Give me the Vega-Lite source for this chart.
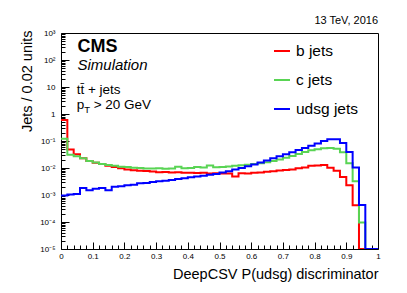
{
  "$schema": "https://vega.github.io/schema/vega-lite/v6.json",
  "width": 317,
  "height": 216,
  "autosize": {"type": "none"},
  "padding": {"left": 61, "top": 33, "right": 29, "bottom": 44},
  "background": "white",
  "config": {
    "font": "Liberation Sans",
    "view": {"stroke": "black", "strokeWidth": 1}
  },
  "title": {"text": "13 TeV, 2016", "anchor": "end", "frame": "group", "fontSize": 11, "fontWeight": "normal", "color": "black", "font": "Liberation Sans", "baseline": "alphabetic", "offset": 10, "dy": 16},
  "resolve": {"axis": {"x": "independent", "y": "independent"}},
  "datasets": {
    "hist": [
      {"f":"b jets","lo":0,"hi":0.02,"n":0.60},{"f":"b jets","lo":0.02,"hi":0.04,"n":0.048},{"f":"b jets","lo":0.04,"hi":0.06,"n":0.032},{"f":"b jets","lo":0.06,"hi":0.08,"n":0.023},{"f":"b jets","lo":0.08,"hi":0.1,"n":0.018},
      {"f":"b jets","lo":0.1,"hi":0.12,"n":0.0155},{"f":"b jets","lo":0.12,"hi":0.14,"n":0.014},{"f":"b jets","lo":0.14,"hi":0.16,"n":0.012},{"f":"b jets","lo":0.16,"hi":0.18,"n":0.011},{"f":"b jets","lo":0.18,"hi":0.2,"n":0.0098},
      {"f":"b jets","lo":0.2,"hi":0.22,"n":0.0088},{"f":"b jets","lo":0.22,"hi":0.24,"n":0.0082},{"f":"b jets","lo":0.24,"hi":0.26,"n":0.0079},{"f":"b jets","lo":0.26,"hi":0.28,"n":0.0078},{"f":"b jets","lo":0.28,"hi":0.3,"n":0.0074},
      {"f":"b jets","lo":0.3,"hi":0.32,"n":0.0070},{"f":"b jets","lo":0.32,"hi":0.34,"n":0.0071},{"f":"b jets","lo":0.34,"hi":0.36,"n":0.0068},{"f":"b jets","lo":0.36,"hi":0.38,"n":0.0069},{"f":"b jets","lo":0.38,"hi":0.4,"n":0.0066},
      {"f":"b jets","lo":0.4,"hi":0.42,"n":0.0067},{"f":"b jets","lo":0.42,"hi":0.44,"n":0.0065},{"f":"b jets","lo":0.44,"hi":0.46,"n":0.0066},{"f":"b jets","lo":0.46,"hi":0.48,"n":0.0063},{"f":"b jets","lo":0.48,"hi":0.5,"n":0.0064},
      {"f":"b jets","lo":0.5,"hi":0.52,"n":0.0062},{"f":"b jets","lo":0.52,"hi":0.54,"n":0.0062},{"f":"b jets","lo":0.54,"hi":0.56,"n":0.0048},{"f":"b jets","lo":0.56,"hi":0.58,"n":0.0064},{"f":"b jets","lo":0.58,"hi":0.6,"n":0.0062},
      {"f":"b jets","lo":0.6,"hi":0.62,"n":0.0066},{"f":"b jets","lo":0.62,"hi":0.64,"n":0.0068},{"f":"b jets","lo":0.64,"hi":0.66,"n":0.0072},{"f":"b jets","lo":0.66,"hi":0.68,"n":0.0076},{"f":"b jets","lo":0.68,"hi":0.7,"n":0.0080},
      {"f":"b jets","lo":0.7,"hi":0.72,"n":0.0084},{"f":"b jets","lo":0.72,"hi":0.74,"n":0.0088},{"f":"b jets","lo":0.74,"hi":0.76,"n":0.0098},{"f":"b jets","lo":0.76,"hi":0.78,"n":0.0105},{"f":"b jets","lo":0.78,"hi":0.8,"n":0.012},
      {"f":"b jets","lo":0.8,"hi":0.82,"n":0.0125},{"f":"b jets","lo":0.82,"hi":0.84,"n":0.0128},{"f":"b jets","lo":0.84,"hi":0.86,"n":0.0102},{"f":"b jets","lo":0.86,"hi":0.88,"n":0.0079},{"f":"b jets","lo":0.88,"hi":0.9,"n":0.0046},
      {"f":"b jets","lo":0.9,"hi":0.92,"n":0.0023},{"f":"b jets","lo":0.92,"hi":0.94,"n":0.00042},{"f":"b jets","lo":0.94,"hi":0.96,"n":1e-5},{"f":"b jets","lo":0.96,"hi":0.98,"n":1e-5},{"f":"b jets","lo":0.98,"hi":1,"n":1e-5},

      {"f":"c jets","lo":0,"hi":0.02,"n":0.12},{"f":"c jets","lo":0.02,"hi":0.04,"n":0.031},{"f":"c jets","lo":0.04,"hi":0.06,"n":0.027},{"f":"c jets","lo":0.06,"hi":0.08,"n":0.023},{"f":"c jets","lo":0.08,"hi":0.1,"n":0.018},
      {"f":"c jets","lo":0.1,"hi":0.12,"n":0.016},{"f":"c jets","lo":0.12,"hi":0.14,"n":0.014},{"f":"c jets","lo":0.14,"hi":0.16,"n":0.0128},{"f":"c jets","lo":0.16,"hi":0.18,"n":0.0122},{"f":"c jets","lo":0.18,"hi":0.2,"n":0.0112},
      {"f":"c jets","lo":0.2,"hi":0.22,"n":0.0108},{"f":"c jets","lo":0.22,"hi":0.24,"n":0.0102},{"f":"c jets","lo":0.24,"hi":0.26,"n":0.0100},{"f":"c jets","lo":0.26,"hi":0.28,"n":0.0096},{"f":"c jets","lo":0.28,"hi":0.3,"n":0.0095},
      {"f":"c jets","lo":0.3,"hi":0.32,"n":0.0097},{"f":"c jets","lo":0.32,"hi":0.34,"n":0.0094},{"f":"c jets","lo":0.34,"hi":0.36,"n":0.0096},{"f":"c jets","lo":0.36,"hi":0.38,"n":0.0112},{"f":"c jets","lo":0.38,"hi":0.4,"n":0.0097},
      {"f":"c jets","lo":0.4,"hi":0.42,"n":0.0099},{"f":"c jets","lo":0.42,"hi":0.44,"n":0.0108},{"f":"c jets","lo":0.44,"hi":0.46,"n":0.0104},{"f":"c jets","lo":0.46,"hi":0.48,"n":0.0125},{"f":"c jets","lo":0.48,"hi":0.5,"n":0.0106},
      {"f":"c jets","lo":0.5,"hi":0.52,"n":0.0110},{"f":"c jets","lo":0.52,"hi":0.54,"n":0.0114},{"f":"c jets","lo":0.54,"hi":0.56,"n":0.0120},{"f":"c jets","lo":0.56,"hi":0.58,"n":0.0126},{"f":"c jets","lo":0.58,"hi":0.6,"n":0.0132},
      {"f":"c jets","lo":0.6,"hi":0.62,"n":0.0140},{"f":"c jets","lo":0.62,"hi":0.64,"n":0.0150},{"f":"c jets","lo":0.64,"hi":0.66,"n":0.0165},{"f":"c jets","lo":0.66,"hi":0.68,"n":0.0182},{"f":"c jets","lo":0.68,"hi":0.7,"n":0.0205},
      {"f":"c jets","lo":0.7,"hi":0.72,"n":0.024},{"f":"c jets","lo":0.72,"hi":0.74,"n":0.028},{"f":"c jets","lo":0.74,"hi":0.76,"n":0.033},{"f":"c jets","lo":0.76,"hi":0.78,"n":0.039},{"f":"c jets","lo":0.78,"hi":0.8,"n":0.045},
      {"f":"c jets","lo":0.8,"hi":0.82,"n":0.050},{"f":"c jets","lo":0.82,"hi":0.84,"n":0.054},{"f":"c jets","lo":0.84,"hi":0.86,"n":0.055},{"f":"c jets","lo":0.86,"hi":0.88,"n":0.052},{"f":"c jets","lo":0.88,"hi":0.9,"n":0.038},
      {"f":"c jets","lo":0.9,"hi":0.92,"n":0.015},{"f":"c jets","lo":0.92,"hi":0.94,"n":0.0032},{"f":"c jets","lo":0.94,"hi":0.96,"n":0.000095},{"f":"c jets","lo":0.96,"hi":0.98,"n":1e-5},{"f":"c jets","lo":0.98,"hi":1,"n":1e-5},

      {"f":"udsg jets","lo":0,"hi":0.02,"n":0.00095},{"f":"udsg jets","lo":0.02,"hi":0.04,"n":0.00105},{"f":"udsg jets","lo":0.04,"hi":0.06,"n":0.0011},{"f":"udsg jets","lo":0.06,"hi":0.08,"n":0.0018},{"f":"udsg jets","lo":0.08,"hi":0.1,"n":0.0015},
      {"f":"udsg jets","lo":0.1,"hi":0.12,"n":0.0017},{"f":"udsg jets","lo":0.12,"hi":0.14,"n":0.0018},{"f":"udsg jets","lo":0.14,"hi":0.16,"n":0.0015},{"f":"udsg jets","lo":0.16,"hi":0.18,"n":0.0020},{"f":"udsg jets","lo":0.18,"hi":0.2,"n":0.0021},
      {"f":"udsg jets","lo":0.2,"hi":0.22,"n":0.0023},{"f":"udsg jets","lo":0.22,"hi":0.24,"n":0.0024},{"f":"udsg jets","lo":0.24,"hi":0.26,"n":0.0027},{"f":"udsg jets","lo":0.26,"hi":0.28,"n":0.0028},{"f":"udsg jets","lo":0.28,"hi":0.3,"n":0.0030},
      {"f":"udsg jets","lo":0.3,"hi":0.32,"n":0.0032},{"f":"udsg jets","lo":0.32,"hi":0.34,"n":0.0034},{"f":"udsg jets","lo":0.34,"hi":0.36,"n":0.0036},{"f":"udsg jets","lo":0.36,"hi":0.38,"n":0.0039},{"f":"udsg jets","lo":0.38,"hi":0.4,"n":0.0042},
      {"f":"udsg jets","lo":0.4,"hi":0.42,"n":0.0045},{"f":"udsg jets","lo":0.42,"hi":0.44,"n":0.0048},{"f":"udsg jets","lo":0.44,"hi":0.46,"n":0.0052},{"f":"udsg jets","lo":0.46,"hi":0.48,"n":0.0056},{"f":"udsg jets","lo":0.48,"hi":0.5,"n":0.0060},
      {"f":"udsg jets","lo":0.5,"hi":0.52,"n":0.0068},{"f":"udsg jets","lo":0.52,"hi":0.54,"n":0.0076},{"f":"udsg jets","lo":0.54,"hi":0.56,"n":0.0088},{"f":"udsg jets","lo":0.56,"hi":0.58,"n":0.0100},{"f":"udsg jets","lo":0.58,"hi":0.6,"n":0.0115},
      {"f":"udsg jets","lo":0.6,"hi":0.62,"n":0.0135},{"f":"udsg jets","lo":0.62,"hi":0.64,"n":0.016},{"f":"udsg jets","lo":0.64,"hi":0.66,"n":0.019},{"f":"udsg jets","lo":0.66,"hi":0.68,"n":0.023},{"f":"udsg jets","lo":0.68,"hi":0.7,"n":0.027},
      {"f":"udsg jets","lo":0.7,"hi":0.72,"n":0.032},{"f":"udsg jets","lo":0.72,"hi":0.74,"n":0.038},{"f":"udsg jets","lo":0.74,"hi":0.76,"n":0.046},{"f":"udsg jets","lo":0.76,"hi":0.78,"n":0.055},{"f":"udsg jets","lo":0.78,"hi":0.8,"n":0.066},
      {"f":"udsg jets","lo":0.8,"hi":0.82,"n":0.080},{"f":"udsg jets","lo":0.82,"hi":0.84,"n":0.100},{"f":"udsg jets","lo":0.84,"hi":0.86,"n":0.115},{"f":"udsg jets","lo":0.86,"hi":0.88,"n":0.115},{"f":"udsg jets","lo":0.88,"hi":0.9,"n":0.085},
      {"f":"udsg jets","lo":0.9,"hi":0.92,"n":0.039},{"f":"udsg jets","lo":0.92,"hi":0.94,"n":0.0105},{"f":"udsg jets","lo":0.94,"hi":0.96,"n":0.00043},{"f":"udsg jets","lo":0.96,"hi":0.98,"n":1e-5},{"f":"udsg jets","lo":0.98,"hi":1,"n":1e-5}
    ],
    "one": [{}]
  },
  "layer": [
    {
      "data": {"name": "hist"},
      "transform": [{"fold": ["lo", "hi"], "as": ["edge", "x"]}],
      "mark": {"type": "line", "strokeWidth": 2, "clip": true},
      "encoding": {
        "x": {
          "field": "x", "type": "quantitative",
          "scale": {"domain": [0, 1], "nice": false, "zero": false},
          "axis": {
            "orient": "bottom",
            "title": "DeepCSV P(udsg) discriminator",
            "titleFont": "Liberation Sans", "titleFontSize": 14.5, "titleFontWeight": "normal", "titleColor": "black",
            "titleX": 317, "titleY": 29, "titleAlign": "right", "titleBaseline": "alphabetic", "titleAnchor": null,
            "domain": false, "grid": false,
            "values": [0,0.1,0.2,0.3,0.4,0.5,0.6,0.7,0.8,0.9,1],
            "tickColor": "black", "tickWidth": 1, "tickSize": -7,
            "labelExpr": "format(datum.value, '~g')",
            "labelFont": "Liberation Sans", "labelFontSize": 8, "labelColor": "black", "labelPadding": 10,
            "labelFlush": false, "labelOverlap": false
          }
        },
        "y": {
          "field": "n", "type": "quantitative",
          "scale": {"type": "log", "domain": [1e-5, 1000], "nice": false},
          "axis": {
            "orient": "left",
            "title": "Jets / 0.02 units",
            "titleFont": "Liberation Sans", "titleFontSize": 14.5, "titleFontWeight": "normal", "titleColor": "black",
            "titleX": -34, "titleY": -3, "titleAlign": "right", "titleBaseline": "middle", "titleAngle": -90, "titleAnchor": null,
            "domain": false, "grid": false,
            "values": [1e-5,1e-4,0.001,0.01,0.1,1,10,100,1000],
            "tickColor": "black", "tickWidth": 1, "tickSize": -8,
            "labelExpr": "round(log(datum.value)/LN10) == 3 ? '10³' : round(log(datum.value)/LN10) == 2 ? '10²' : round(log(datum.value)/LN10) == 1 ? '10' : round(log(datum.value)/LN10) == 0 ? '1' : '10⁻' + ['','¹','²','³','⁴','⁵'][-round(log(datum.value)/LN10)]",
            "labelFont": "Liberation Sans", "labelFontSize": 8, "labelColor": "black", "labelPadding": 14,
            "labelFlush": false, "labelOverlap": false, "labelBaseline": "middle"
          }
        },
        "color": {
          "field": "f", "type": "nominal",
          "scale": {"domain": ["b jets", "c jets", "udsg jets"], "range": ["#ff0000", "#59d454", "#0000ff"]},
          "legend": {
            "orient": "none", "legendX": 212, "legendY": 9, "title": null,
            "symbolType": "stroke", "symbolSize": 256, "symbolStrokeWidth": 2,
            "labelFont": "Liberation Sans", "labelFontSize": 15.5, "labelColor": "black", "labelOffset": 5,
            "rowPadding": 11, "padding": 0
          }
        },
        "order": [{"field": "lo", "type": "quantitative"}, {"field": "edge", "type": "nominal", "sort": "descending"}]
      }
    },
    {
      "data": {"name": "one"},
      "mark": {"type": "text", "text": ""},
      "encoding": {
        "x": {"datum": 0.5, "type": "quantitative", "axis": {
          "orient": "bottom", "title": null, "labels": false, "domain": false, "grid": false,
          "values": [0.02,0.04,0.06,0.08,0.12,0.14,0.16,0.18,0.22,0.24,0.26,0.28,0.32,0.34,0.36,0.38,0.42,0.44,0.46,0.48,0.52,0.54,0.56,0.58,0.62,0.64,0.66,0.68,0.72,0.74,0.76,0.78,0.82,0.84,0.86,0.88,0.92,0.94,0.96,0.98],
          "tickColor": "black", "tickWidth": 1, "tickSize": -4}},
        "y": {"datum": 1, "type": "quantitative", "axis": {
          "orient": "left", "title": null, "labels": false, "domain": false, "grid": false,
          "values": [2e-5,3e-5,4e-5,5e-5,6e-5,7e-5,8e-5,9e-5,2e-4,3e-4,4e-4,5e-4,6e-4,7e-4,8e-4,9e-4,0.002,0.003,0.004,0.005,0.006,0.007,0.008,0.009,0.02,0.03,0.04,0.05,0.06,0.07,0.08,0.09,0.2,0.3,0.4,0.5,0.6,0.7,0.8,0.9,2,3,4,5,6,7,8,9,20,30,40,50,60,70,80,90,200,300,400,500,600,700,800,900],
          "tickColor": "black", "tickWidth": 1, "tickSize": -4}}
      }
    },
    {
      "data": {"name": "one"},
      "mark": {"type": "text", "text": "CMS", "font": "Liberation Sans", "fontSize": 18, "fontWeight": "bold", "align": "left", "baseline": "alphabetic", "color": "black"},
      "encoding": {"x": {"datum": 0.052, "type": "quantitative", "axis": null}, "y": {"datum": 206, "type": "quantitative", "axis": null}}
    },
    {
      "data": {"name": "one"},
      "mark": {"type": "text", "text": "Simulation", "font": "Liberation Sans", "fontSize": 15, "fontStyle": "italic", "align": "left", "baseline": "alphabetic", "color": "black"},
      "encoding": {"x": {"datum": 0.052, "type": "quantitative", "axis": null}, "y": {"datum": 41, "type": "quantitative", "axis": null}}
    },
    {
      "data": {"name": "one"},
      "mark": {"type": "text", "text": "tt̄ + jets", "font": "Liberation Sans", "fontSize": 13.5, "align": "left", "baseline": "alphabetic", "color": "black"},
      "encoding": {"x": {"datum": 0.0495, "type": "quantitative", "axis": null}, "y": {"datum": 5.5, "type": "quantitative", "axis": null}}
    },
    {
      "data": {"name": "one"},
      "mark": {"type": "text", "text": "p", "font": "Liberation Sans", "fontSize": 13.5, "align": "left", "baseline": "alphabetic", "color": "black"},
      "encoding": {"x": {"datum": 0.0495, "type": "quantitative", "axis": null}, "y": {"datum": 1.53, "type": "quantitative", "axis": null}}
    },
    {
      "data": {"name": "one"},
      "mark": {"type": "text", "text": "T", "font": "Liberation Sans", "fontSize": 9.5, "align": "left", "baseline": "alphabetic", "color": "black", "dx": 7.5, "dy": 3.5},
      "encoding": {"x": {"datum": 0.0495, "type": "quantitative", "axis": null}, "y": {"datum": 1.53, "type": "quantitative", "axis": null}}
    },
    {
      "data": {"name": "one"},
      "mark": {"type": "text", "text": "> 20 GeV", "font": "Liberation Sans", "fontSize": 13.5, "align": "left", "baseline": "alphabetic", "color": "black", "dx": 17},
      "encoding": {"x": {"datum": 0.0495, "type": "quantitative", "axis": null}, "y": {"datum": 1.53, "type": "quantitative", "axis": null}}
    }
  ]
}
